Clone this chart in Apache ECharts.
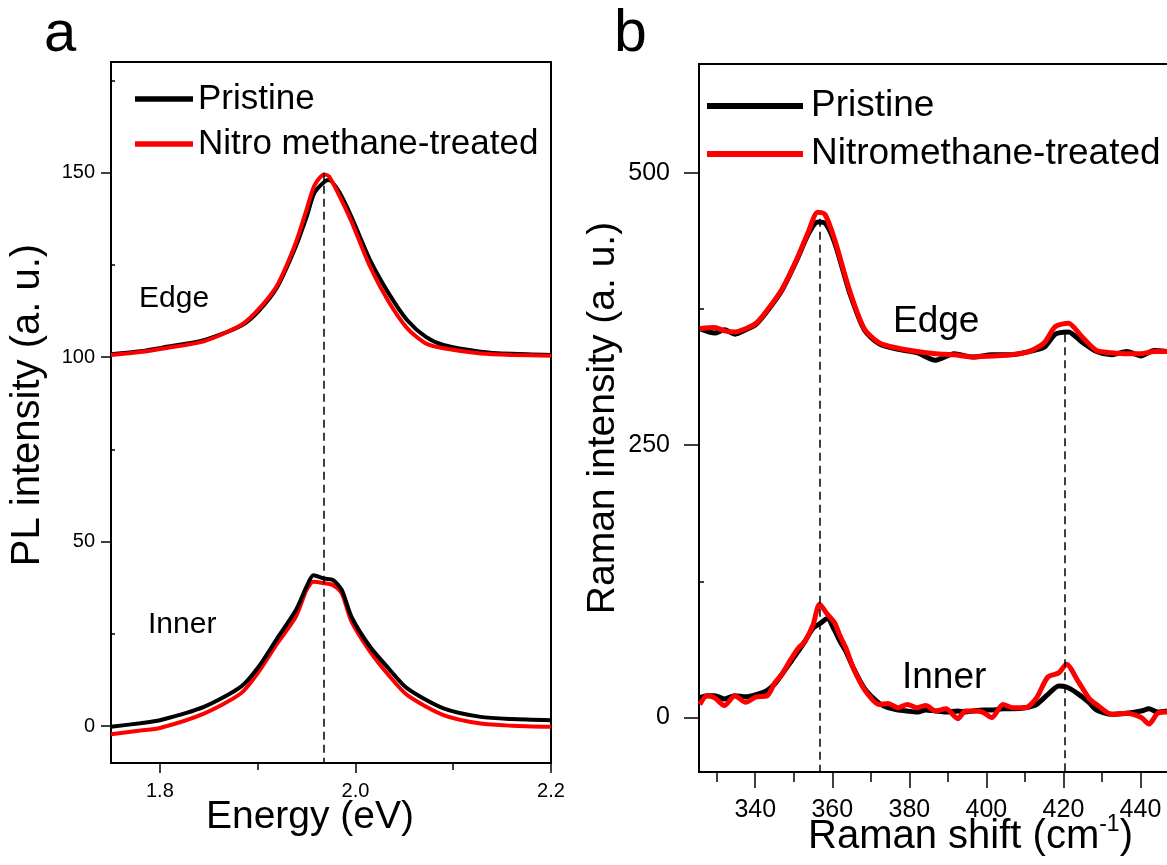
<!DOCTYPE html>
<html><head><meta charset="utf-8">
<script src="https://cdn.jsdelivr.net/npm/echarts@6/dist/echarts.min.js"></script>
<style>html,body{margin:0;padding:0;background:#fff}#c{width:1167px;height:865px}</style>
</head><body><div id="c"></div>
<script>
const FONT = '"Liberation Sans", Arial, Helvetica, sans-serif';

// ---------- Panel a : PL spectra ----------
const aEdgeX = [1.75, 1.78, 1.807, 1.845, 1.883, 1.901, 1.920, 1.939, 1.950, 1.958, 1.968, 1.973, 1.984, 1.996, 2.015, 2.034, 2.053, 2.072, 2.090, 2.128, 2.16, 2.2];
const aEdgePristine = [100.8, 101.6, 102.8, 104.6, 108.5, 112.5, 119, 130, 138, 144.5, 147.5, 148, 144.5, 138, 126.3, 117.3, 110, 105.5, 103.3, 101.5, 100.9, 100.6];
const aEdgeTreated  = [100.6, 101.4, 102.5, 104.3, 108.7, 113, 119.5, 131, 140, 146.5, 149.5, 149, 143.5, 136.7, 124.5, 115, 107.8, 103.7, 102.4, 101, 100.6, 100.4];

const aInnerX = [1.75, 1.78, 1.8, 1.845, 1.883, 1.901, 1.92, 1.939, 1.95, 1.957, 1.968, 1.977, 1.986, 1.996, 2.015, 2.034, 2.053, 2.09, 2.128, 2.16, 2.2];
const aInnerPristine = [-0.2, 0.8, 1.6, 5.2, 10.7, 16.1, 23.8, 31.4, 37.8, 40.9, 40, 39.6, 36.9, 29.6, 21.5, 15.6, 10.2, 4.8, 2.5, 1.9, 1.6];
const aInnerTreated  = [-2.2, -1.2, -0.5, 3.4, 8.9, 14.7, 22.4, 29.6, 36.9, 39.1, 38.7, 38.2, 36, 28.3, 20.2, 13.8, 8.4, 3, 0.7, 0.1, -0.2];

const aXLabels = [1.8, 2.0, 2.2];
const aXMinor = [1.9, 2.1];
const aYLabels = [0, 50, 100, 150];
const aYMinor = [25, 75, 125, 175];
const aDashX = [1.968];
const aDashTop = [150];

// ---------- Panel b : Raman spectra ----------
const bEdgeX = [325.6, 329.5, 332, 334.8, 337.5, 340.2, 343.1, 346.9, 350.8, 353.8, 356.2, 358.1, 360.6, 364.5, 368.3, 372.2, 377.1, 382, 386.8, 391.6, 396.5, 401.4, 406.3, 411.1, 415, 417.9, 421.3, 424.7, 428.6, 432.5, 436.4, 440.2, 443.5, 446.9];
const bEdgePristine = [357, 353, 356, 352, 356, 361, 373, 392, 420, 444, 455, 454, 436, 390, 356, 343, 338, 335, 328, 334, 331, 333, 333, 336, 340, 352, 354, 345, 336, 333, 336, 332, 337, 336];
const bEdgeTreated  = [357, 358, 355, 354, 357, 362, 374, 393, 421, 446, 464, 462, 439, 392, 357, 344, 339, 336, 334, 333, 331, 332, 333, 336, 344, 359, 362, 350, 337, 335, 334, 334, 336, 336];

const bInnerX = [325.6, 327.5, 329.5, 332, 334.7, 337.5, 340.2, 343.1, 345.1, 347, 349, 351, 352.9, 355, 356.7, 358.7, 360.6, 362, 363.5, 365.4, 368.3, 372.2, 374.5, 377.1, 379.5, 381.9, 384.3, 386.8, 389.5, 392.6, 394.5, 396.5, 399, 401.4, 404.3, 407, 410.1, 413, 415.9, 418.8, 420.8, 423.7, 426.6, 428.6, 432.5, 436.4, 440.2, 442.2, 444.5, 446.9];
const bInnerPristine = [18, 20, 20, 17, 20, 19, 21, 25, 31, 40, 50, 60, 70, 82, 86, 91, 80, 70, 61, 46, 27, 13, 9, 7, 6, 5, 7, 6, 5, 6, 5, 6, 7, 7, 8, 8, 9, 12, 21, 29, 28, 22, 14, 7, 3, 4, 6, 8, 5, 6];
const bInnerTreated  = [12, 20, 18, 11, 20, 14, 19, 20, 32, 40, 52, 63, 70, 85, 104, 95, 87, 75, 64, 46, 26, 12, 13, 9, 12, 9, 11, 6, 8, -1, 6, 6, 5, 0, 12, 9, 9, 18, 37, 41, 49, 34, 18, 12, 3, 4, 0, -6, 4, 5];

const bXLabels = [340, 360, 380, 400, 420, 440];
const bXMinor = [330, 350, 370, 390, 410, 430, 450];
const bYLabels = [0, 250, 500];
const bYMinor = [125, 375];
const bDashX = [356.7, 420.3];
const bDashTop = [458, 352];

const A = {xMin: 1.75, xMax: 2.2, yMin: -10, yMax: 180};
const B = {xMin: 325.4, xMax: 450, yMin: -50, yMax: 600};

function pairs(xs, ys) { return xs.map((x, i) => [x, ys[i]]); }
function dashLines(xs, tops, bottom) {
  return xs.map((x, i) => [{coord: [x, tops[i]]}, {coord: [x, bottom]}]);
}

const BLACK = '#000000', RED = '#ff0000';

function mainX(grid, r, labels, fs, margin, tickLen, name, nameGap, nameStyle, fmt) {
  return {
    gridIndex: grid, type: 'value', position: 'bottom', min: r.xMin, max: r.xMax,
    axisLine: {show: true, onZero: false, lineStyle: {color: BLACK, width: 2}},
    axisTick: {show: true, customValues: labels, length: tickLen, lineStyle: {color: BLACK, width: 1.5}},
    axisLabel: {show: true, customValues: labels, fontSize: fs, color: BLACK, fontFamily: FONT, margin: margin, formatter: fmt},
    splitLine: {show: false},
    name: name, nameLocation: 'middle', nameGap: nameGap, nameMoveOverlap: false, nameTextStyle: nameStyle
  };
}
function minorX(grid, r, vals, len) {
  return {
    gridIndex: grid, type: 'value', position: 'bottom', min: r.xMin, max: r.xMax,
    axisLine: {show: false, onZero: false}, axisLabel: {show: false}, splitLine: {show: false},
    axisTick: {show: true, customValues: vals, length: len, lineStyle: {color: BLACK, width: 1.5}}
  };
}
function mainY(grid, r, labels, fs, margin, tickLen, name, nameGap, nameStyle) {
  return {
    gridIndex: grid, type: 'value', position: 'left', min: r.yMin, max: r.yMax,
    axisLine: {show: true, onZero: false, lineStyle: {color: BLACK, width: 2}},
    axisTick: {show: true, customValues: labels, length: tickLen, lineStyle: {color: BLACK, width: 1.5}},
    axisLabel: {show: true, customValues: labels, fontSize: fs, color: BLACK, fontFamily: FONT, margin: margin},
    splitLine: {show: false},
    name: name, nameLocation: 'middle', nameGap: nameGap, nameMoveOverlap: false, nameTextStyle: nameStyle
  };
}
function minorY(grid, r, vals, len) {
  return {
    gridIndex: grid, type: 'value', position: 'left', min: r.yMin, max: r.yMax,
    axisLine: {show: false, onZero: false}, axisLabel: {show: false}, splitLine: {show: false},
    axisTick: {show: true, inside: true, customValues: vals, length: len, lineStyle: {color: BLACK, width: 1.5}}
  };
}
function line(name, xi, yi, data, color, width, extra) {
  return Object.assign({
    type: 'line', name: name, xAxisIndex: xi, yAxisIndex: yi, data: data,
    showSymbol: false, symbol: 'none', smooth: 0.25, color: color,
    lineStyle: {color: color, width: width}, itemStyle: {color: color},
    animation: false, silent: true
  }, extra || {});
}
function dashMark(xs, tops, bottom) {
  return {markLine: {silent: true, symbol: ['none', 'none'], label: {show: false},
    lineStyle: {color: BLACK, width: 1.5, type: [8, 5]}, animation: false,
    data: dashLines(xs, tops, bottom)}};
}

const chart = echarts.init(document.getElementById('c'), null, {renderer: 'canvas'});
chart.setOption({
  backgroundColor: '#ffffff',
  animation: false,
  textStyle: {fontFamily: FONT},
  grid: [
    {left: 111, top: 62, width: 440, height: 701, outerBoundsMode: 'none', containLabel: false,
     show: true, borderColor: BLACK, borderWidth: 2, backgroundColor: 'transparent'},
    {left: 699, top: 64, width: 480, height: 708, outerBoundsMode: 'none', containLabel: false,
     show: true, borderColor: BLACK, borderWidth: 2, backgroundColor: 'transparent'}
  ],
  xAxis: [
    mainX(0, A, aXLabels, 20, 18, 10, 'Energy (eV)', 35,
      {fontSize: 39, color: BLACK, fontFamily: FONT, padding: [0, 42, 0, 0]}, v => Number(v).toFixed(1)),
    minorX(0, A, aXMinor, 7),
    mainX(1, B, bXLabels, 25, 26, 16, 'Raman shift (cm{sup|-1})', 41,
      {fontSize: 40, lineHeight: 48, color: BLACK, fontFamily: FONT, padding: [0, 0, 0, 63],
       rich: {sup: {fontSize: 23, lineHeight: 23, color: BLACK, fontFamily: FONT, verticalAlign: 'top'}}},
      v => String(v)),
    minorX(1, B, bXMinor, 10)
  ],
  yAxis: [
    mainY(0, A, aYLabels, 20, 16, 10, 'PL intensity (a. u.)', 63,
      {fontSize: 40, color: BLACK, fontFamily: FONT, padding: [0, 0, 0, 15]}),
    minorY(0, A, aYMinor, 4),
    mainY(1, B, bYLabels, 25, 29, 15, 'Raman intensity (a. u.)', 76,
      {fontSize: 39, color: BLACK, fontFamily: FONT}),
    minorY(1, B, bYMinor, 5)
  ],
  legend: [
    {data: ['Pristine', 'Nitro methane-treated'], orient: 'vertical', left: 135, top: 81.5,
     itemWidth: 58, itemHeight: 5.5, itemGap: 10, icon: 'rect', padding: 0, selectedMode: false,
     textStyle: {fontSize: 35, color: BLACK, fontFamily: FONT}},
    {data: ['Pristine', 'Nitromethane-treated'], orient: 'vertical', left: 707, top: 87.5,
     itemWidth: 96, itemHeight: 6, itemGap: 11, icon: 'rect', padding: 0, selectedMode: false,
     textStyle: {fontSize: 37, color: BLACK, fontFamily: FONT, padding: [0, 0, 0, 3]}}
  ],
  series: [
    line('Pristine', 0, 0, pairs(aEdgeX, aEdgePristine), BLACK, 4, dashMark(aDashX, aDashTop, A.yMin)),
    line('Nitro methane-treated', 0, 0, pairs(aEdgeX, aEdgeTreated), RED, 4),
    line('Nitro methane-treated', 0, 0, pairs(aInnerX, aInnerTreated), RED, 4),
    line('Pristine', 0, 0, pairs(aInnerX, aInnerPristine), BLACK, 4),
    line('Pristine', 2, 2, pairs(bEdgeX, bEdgePristine), BLACK, 5, dashMark(bDashX, bDashTop, B.yMin)),
    line('Pristine', 2, 2, pairs(bInnerX, bInnerPristine), BLACK, 5),
    line('Nitromethane-treated', 2, 2, pairs(bEdgeX, bEdgeTreated), RED, 5),
    line('Nitromethane-treated', 2, 2, pairs(bInnerX, bInnerTreated), RED, 5)
  ],
  graphic: [
    {type: 'text', left: 44, top: 6, style: {text: 'a', fill: BLACK, font: '58px ' + FONT}},
    {type: 'text', left: 614, top: 5, style: {text: 'b', fill: BLACK, font: '59px ' + FONT}},
    {type: 'text', left: 139, top: 284, style: {text: 'Edge', fill: BLACK, font: '30px ' + FONT}},
    {type: 'text', left: 148, top: 610, style: {text: 'Inner', fill: BLACK, font: '30px ' + FONT}},
    {type: 'text', left: 893, top: 303, style: {text: 'Edge', fill: BLACK, font: '37px ' + FONT}},
    {type: 'text', left: 902, top: 659, style: {text: 'Inner', fill: BLACK, font: '37px ' + FONT}}
  ]
});
</script>
</body></html>
